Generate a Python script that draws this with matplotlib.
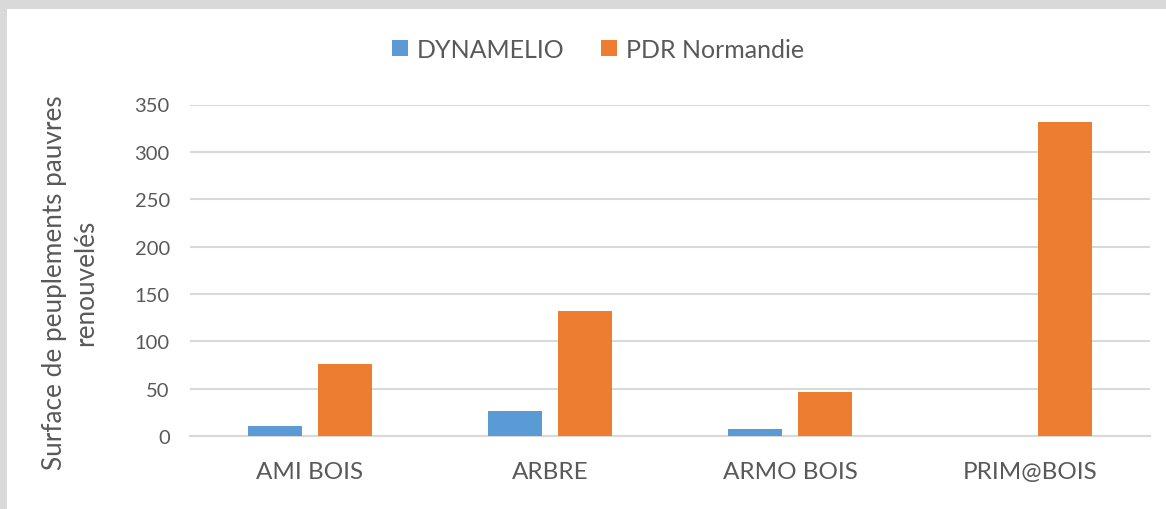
import numpy as np
import matplotlib
matplotlib.use("Agg")
import matplotlib.pyplot as plt

categories = ["AMI BOIS", "ARBRE", "ARMO BOIS", "PRIM@BOIS"]
dynamelio = [11, 26, 7, 0]
pdr_normandie = [76, 132, 46, 331]
yticks = [0, 50, 100, 150, 200, 250, 300, 350]

plt.rcParams['font.family'] = ['Lato', 'DejaVu Sans']
txt = "#595959"

fig = plt.figure(figsize=(11.66, 5.10), dpi=100)
fig.patch.set_facecolor("#d9d9d9")
# white chart area (grey frame only on top and left)
bg = fig.add_axes([7 / 1166, 0, 1, 1 - 10 / 510])
bg.axis("off")
bg.add_patch(plt.Rectangle((0, 0), 1, 1, transform=bg.transAxes, facecolor="white", edgecolor="none"))
bg.set_zorder(0)

ax = fig.add_axes([190 / 1166, 1 - 437 / 510, 960 / 1166, 331.5 / 510])
ax.set_facecolor("none")
ax.set_zorder(1)

x = np.arange(len(categories))
w = 0.225
ax.bar(x - 0.144, dynamelio, w, color="#5B9BD5", label="DYNAMELIO", zorder=3)
ax.bar(x + 0.144, pdr_normandie, w, color="#ED7D31", label="PDR Normandie", zorder=3)

ax.set_xlim(-0.5, 3.5)
ax.set_ylim(0, 350)
ax.set_yticks(yticks)
ax.set_xticks(x)
ax.set_xticklabels(categories)
ax.tick_params(axis="both", length=0, colors=txt)
ax.tick_params(axis="y", pad=14.5, labelsize=14.5)
ax.tick_params(axis="x", pad=18, labelsize=17.5)
ax.grid(axis="y", color="#d9d9d9", linewidth=1.5, zorder=0)
for s in ["top", "right", "left"]:
    ax.spines[s].set_visible(False)
ax.spines["bottom"].set_color("#d9d9d9")
ax.spines["bottom"].set_linewidth(1.5)

ax.set_ylabel("Surface de peuplements pauvres\nrenouvelés", fontsize=18.8, color=txt,
              linespacing=1.3)
ax.yaxis.set_label_coords(-0.096, 0.465)

leg = fig.legend(loc="center", bbox_to_anchor=(598 / 1166, 1 - 50 / 510), ncol=2, frameon=False,
                 fontsize=18, labelcolor=txt, handlelength=0.62, handleheight=0.62,
                 handletextpad=0.35, columnspacing=1.5)
leg.set_zorder(5)

fig.savefig("out.png", dpi=100)
